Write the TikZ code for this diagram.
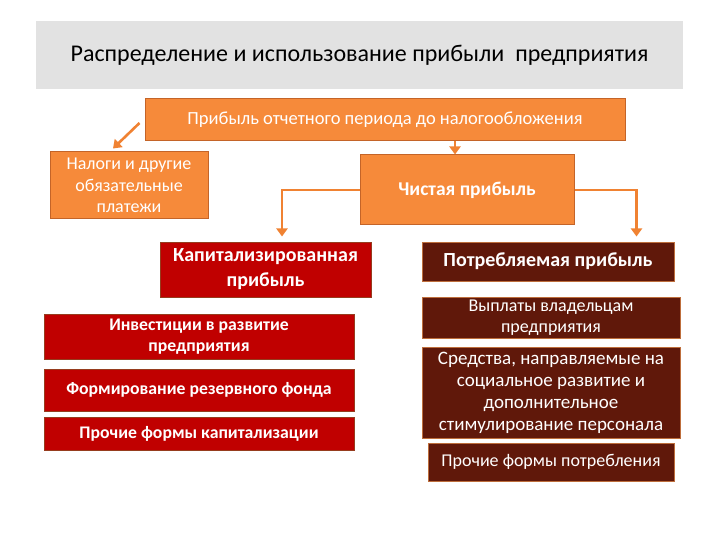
\documentclass[tikz,border=0pt]{standalone}
\usepackage{fontspec}
\setmainfont{Carlito}
\usetikzlibrary{arrows.meta,calc}
\definecolor{titlegray}{RGB}{226,226,226}
\definecolor{orfill}{RGB}{246,138,58}
\definecolor{ordraw}{RGB}{196,100,40}
\definecolor{redfill}{RGB}{192,0,0}
\definecolor{reddraw}{RGB}{150,60,30}
\definecolor{brfill}{RGB}{96,24,10}
\definecolor{brdraw}{RGB}{190,110,60}
\definecolor{arr}{RGB}{240,130,50}
\tikzset{
  box/.style={rectangle, line width=1pt, inner sep=2pt, align=center, text=white},
  obox/.style={box, fill=orfill, draw=ordraw},
  rbox/.style={box, fill=redfill, draw=reddraw},
  bbox/.style={box, fill=brfill, draw=brdraw},
  conn/.style={draw=arr, line width=2.6pt, -{Triangle[length=8pt,width=11pt]}},
}
\begin{document}
\begin{tikzpicture}[x=1pt,y=-1pt]
\useasboundingbox (0,0) rectangle (720,540);
\node[fill=titlegray, minimum width=647pt, minimum height=68pt, inner sep=0pt, font=\fontsize{24}{28}\selectfont] (title) at (359.5,55) {Распределение и использование прибыли\ \ предприятия};

\node[obox, minimum width=480pt, minimum height=42pt, font=\fontsize{18.5}{22}\selectfont] (top) at (385,120) {Прибыль отчетного периода до налогообложения};
\node[obox, minimum width=158pt, minimum height=67pt, font=\fontsize{18}{21.5}\selectfont] (taxes) at (129,185.5) {Налоги и другие\\обязательные\\платежи};
\node[obox, minimum width=214pt, minimum height=70pt, font=\fontsize{19.5}{23}\selectfont\bfseries] (net) at (467,190) {Чистая прибыль};

\node[rbox, minimum width=211pt, minimum height=55pt, font=\fontsize{20}{25}\selectfont\bfseries] (cap) at (265.5,269.5) {Капитализированная\\прибыль};
\node[rbox, minimum width=310pt, minimum height=45pt, font=\fontsize{17.7}{21.5}\selectfont\bfseries] (inv) at (199,336.5) {Инвестиции в развитие\\предприятия};
\node[rbox, minimum width=310pt, minimum height=42pt, font=\fontsize{17.7}{20}\selectfont\bfseries] (res) at (199,390) {Формирование резервного фонда};
\node[rbox, minimum width=310pt, minimum height=33pt, font=\fontsize{17.7}{20}\selectfont\bfseries] (ocap) at (199,433.5) {Прочие формы капитализации};

\node[bbox, minimum width=252pt, minimum height=39pt, font=\fontsize{20}{23}\selectfont\bfseries] (cons) at (548,261.5) {Потребляемая прибыль};
\node[bbox, minimum width=258pt, minimum height=41pt, font=\fontsize{18}{21}\selectfont] (pay) at (551,317.5) {Выплаты владельцам\\предприятия};
\node[bbox, minimum width=258pt, minimum height=91pt, font=\fontsize{19}{22}\selectfont] (soc) at (551,392.5) {Средства, направляемые на\\социальное развитие и\\дополнительное\\стимулирование персонала};
\node[bbox, minimum width=246pt, minimum height=38pt, font=\fontsize{18}{20}\selectfont] (ocons) at (551,462) {Прочие формы потребления};

\coordinate (tstart) at ($(top.west)+(-5,3)$);
\draw[conn] (tstart) -- ($(taxes.north)+(-16,-3)$);
\draw[conn] (top.south -| 455,0) -- (net.north -| 455,0);
\draw[conn] (net.west) -| ($(cap.north)+(16.5,-5)$);
\draw[conn] (net.east) -| ($(cons.north east)+(-38,-5)$);
\end{tikzpicture}
\end{document}
